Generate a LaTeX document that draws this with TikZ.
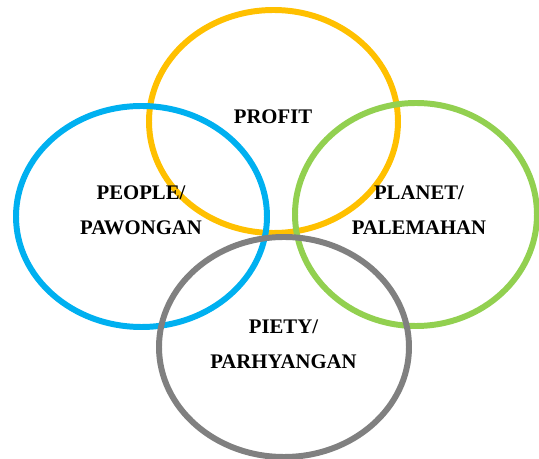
\documentclass[tikz,border=0pt]{standalone}
\usepackage{fontspec}
\setmainfont{Liberation Serif}
\definecolor{profitcol}{HTML}{FFC000}
\definecolor{peoplecol}{HTML}{00B0F0}
\definecolor{planetcol}{HTML}{92D050}
\definecolor{pietycol}{HTML}{808080}
\tikzset{%
    ring/.style={line width=3.4pt},
    lbl/.style={align=center,inner sep=0pt,font=\fontsize{11.8pt}{19.9pt}\selectfont\bfseries}
}

\begin{document}
\begin{tikzpicture}[x=0.02cm,y=0.02cm]
    \useasboundingbox (0,0) rectangle (539,-459);
    \draw[ring,profitcol] (273.5,-121.5) ellipse (124.5 and 111.5);
    \draw[ring,peoplecol] (141.5,-216.5) ellipse (125.5 and 110.5);
    \draw[ring,planetcol] (416,-214.5) ellipse (121 and 111.5);
    \draw[ring,pietycol] (284,-347) ellipse (125 and 110);

    \node[lbl] (profit) at (273,-117) {PROFIT};
    \node[lbl] (people) at (141,-210.5) {PEOPLE/\\PAWONGAN};
    \node[lbl] (planet) at (419,-210) {PLANET/\\PALEMAHAN};
    \node[lbl] (piety) at (283.5,-344.5) {PIETY/\\PARHYANGAN};
\end{tikzpicture}
\end{document}
